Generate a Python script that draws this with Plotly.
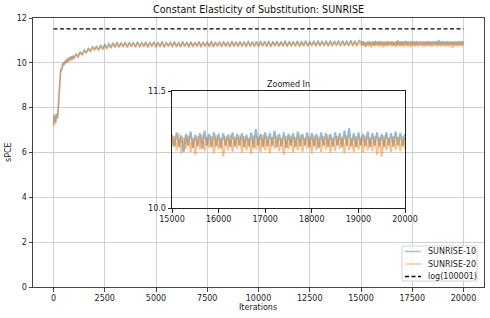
import plotly.graph_objects as go

# ---------------- data ----------------
iter_seg1 = list(range(0, 1001, 50))
iter_seg2 = list(range(1100, 2001, 100))
iter_seg3 = list(range(2100, 14901, 100))
iter_seg4 = list(range(15000, 20001, 50))
iterations = iter_seg1 + iter_seg2 + iter_seg3 + iter_seg4

sunrise10 = [
    # 0..1000 step 50
    7.25, 7.70, 7.35, 7.75, 7.55, 8.50, 9.20, 9.75, 9.70, 10.00, 9.90, 10.10, 10.00, 10.18, 10.05,
    10.25, 10.12, 10.30, 10.15, 10.33, 10.20,
    # 1100..2000 step 100
    10.40, 10.28, 10.49, 10.38, 10.58, 10.46, 10.66, 10.53, 10.73, 10.60,
    # 2100..14900 step 100
    10.76, 10.58, 10.80, 10.62, 10.84, 10.65, 10.88, 10.68, 10.91, 10.71,
    10.93, 10.72, 10.91, 10.73, 10.94, 10.71, 10.93, 10.74, 10.92, 10.72,
    10.95, 10.73, 10.92, 10.74, 10.94, 10.72, 10.93, 10.75, 10.95, 10.73,
    10.92, 10.74, 10.96, 10.72, 10.93, 10.75, 10.94, 10.73, 10.95, 10.74,
    10.93, 10.73, 10.96, 10.75, 10.94, 10.72, 10.95, 10.74, 10.93, 10.75,
    10.96, 10.73, 10.94, 10.75, 10.95, 10.74, 10.97, 10.73, 10.94, 10.76,
    10.95, 10.74, 10.96, 10.75, 10.94, 10.73, 10.97, 10.76, 10.95, 10.74,
    10.96, 10.75, 10.95, 10.74, 10.98, 10.76, 10.95, 10.75, 10.96, 10.74,
    10.97, 10.76, 10.96, 10.75, 10.98, 10.74, 10.96, 10.77, 10.97, 10.75,
    10.96, 10.76, 10.99, 10.75, 10.97, 10.77, 10.96, 10.76, 10.98, 10.75,
    10.97, 10.77, 10.99, 10.76, 10.97, 10.78, 10.98, 10.76, 11.00, 10.77,
    10.98, 10.78, 10.99, 10.76, 11.00, 10.77, 10.98, 10.79, 10.99, 10.77,
    11.00, 10.78, 10.98, 10.77, 11.01, 10.78, 10.99, 10.77, 11.00,
    # 15000..20000 step 50
    10.94, 10.79, 10.97, 10.78, 10.93, 10.72, 10.95, 10.80, 10.98, 10.77,
    10.94, 10.79, 10.96, 10.76, 10.99, 10.80, 10.95, 10.78, 10.97, 10.79,
    10.95, 10.77, 10.96, 10.80, 10.94, 10.78, 10.97, 10.79, 10.95, 10.80,
    10.96, 10.78, 10.94, 10.79, 10.97, 10.77, 11.01, 10.80, 10.95, 10.78,
    10.97, 10.79, 10.96, 10.80, 10.99, 10.78, 10.95, 10.79, 10.97, 10.77,
    10.95, 10.80, 10.96, 10.78, 10.98, 10.79, 10.95, 10.80, 10.97, 10.78,
    10.96, 10.79, 10.95, 10.77, 10.97, 10.80, 10.96, 10.78, 10.95, 10.79,
    10.97, 10.80, 10.96, 10.78, 10.99, 10.80, 11.02, 10.79, 10.96, 10.78,
    10.97, 10.80, 10.95, 10.79, 10.98, 10.78, 10.96, 10.80, 10.97, 10.79,
    10.95, 10.78, 10.97, 10.80, 10.96, 10.79, 10.98, 10.80, 10.96, 10.79,
    10.95,
]

sunrise20 = [
    7.15, 7.60, 7.25, 7.65, 7.50, 8.40, 9.10, 9.65, 9.62, 9.92, 9.85, 10.05, 9.95, 10.12, 10.00,
    10.20, 10.08, 10.26, 10.10, 10.30, 10.17,
    10.36, 10.25, 10.46, 10.34, 10.54, 10.43, 10.62, 10.50, 10.69, 10.57,
    10.69, 10.56, 10.73, 10.59, 10.76, 10.62, 10.80, 10.64, 10.83, 10.67,
    10.86, 10.68, 10.85, 10.69, 10.88, 10.67, 10.87, 10.70, 10.86, 10.68,
    10.89, 10.69, 10.87, 10.70, 10.88, 10.68, 10.88, 10.71, 10.89, 10.69,
    10.87, 10.70, 10.90, 10.68, 10.88, 10.71, 10.89, 10.69, 10.90, 10.70,
    10.88, 10.69, 10.90, 10.71, 10.89, 10.68, 10.90, 10.70, 10.88, 10.71,
    10.90, 10.69, 10.89, 10.71, 10.90, 10.70, 10.91, 10.69, 10.89, 10.72,
    10.90, 10.70, 10.91, 10.71, 10.89, 10.69, 10.91, 10.72, 10.90, 10.70,
    10.91, 10.71, 10.90, 10.70, 10.92, 10.72, 10.90, 10.71, 10.91, 10.70,
    10.91, 10.72, 10.91, 10.71, 10.92, 10.70, 10.91, 10.73, 10.92, 10.71,
    10.91, 10.72, 10.93, 10.71, 10.92, 10.73, 10.91, 10.72, 10.93, 10.71,
    10.92, 10.73, 10.93, 10.72, 10.92, 10.74, 10.93, 10.72, 10.94, 10.73,
    10.93, 10.74, 10.94, 10.72, 10.94, 10.73, 10.93, 10.75, 10.94, 10.73,
    10.94, 10.74, 10.93, 10.73, 10.95, 10.74, 10.94, 10.73, 10.95,
    10.78, 10.92, 10.74, 10.95, 10.70, 10.91, 10.76, 10.93, 10.72, 10.90,
    10.68, 10.92, 10.75, 10.94, 10.73, 10.91, 10.77, 10.92, 10.70, 10.93,
    10.75, 10.90, 10.66, 10.92, 10.74, 10.94, 10.72, 10.91, 10.76, 10.93,
    10.71, 10.92, 10.74, 10.90, 10.69, 10.93, 10.75, 10.91, 10.72, 10.94,
    10.74, 10.92, 10.70, 10.91, 10.76, 10.93, 10.73, 10.90, 10.68, 10.92,
    10.75, 10.93, 10.71, 10.91, 10.74, 10.94, 10.72, 10.90, 10.76, 10.92,
    10.70, 10.93, 10.74, 10.91, 10.72, 10.92, 10.75, 10.94, 10.71, 10.90,
    10.73, 10.92, 10.76, 10.91, 10.70, 10.93, 10.74, 10.90, 10.72, 10.92,
    10.75, 10.91, 10.71, 10.93, 10.74, 10.90, 10.73, 10.92, 10.68, 10.91,
    10.66, 10.93, 10.74, 10.90, 10.72, 10.92, 10.75, 10.91, 10.73, 10.92,
    10.76,
]

log_bound = 11.5129  # log(100001)
bound_x = [0, 20000]
zoom_start = 15000

series_names = ["SUNRISE-10", "SUNRISE-20", "log(100001)"]
main_xticks = [0, 2500, 5000, 7500, 10000, 12500, 15000, 17500, 20000]
main_yticks = [0, 2, 4, 6, 8, 10, 12]
inset_xticks = [15000, 16000, 17000, 18000, 19000, 20000]
inset_yticks = [10.0, 11.5]

# ---------------- figure ----------------
BLUE = "rgba(31,119,180,0.5)"
ORANGE = "rgba(255,127,14,0.5)"
BLUE_L = "rgba(31,119,180,0.45)"
ORANGE_L = "rgba(255,127,14,0.45)"
FONT = "DejaVu Sans"
LW = 1.5
LW_IN = 2.0

fig = go.Figure()

fig.add_trace(go.Scatter(x=iterations, y=sunrise10, mode="lines", name=series_names[0],
                         line=dict(color=BLUE, width=LW), showlegend=False))
fig.add_trace(go.Scatter(x=iterations, y=sunrise20, mode="lines", name=series_names[1],
                         line=dict(color=ORANGE, width=LW), showlegend=False))
fig.add_trace(go.Scatter(x=bound_x, y=[log_bound, log_bound], mode="lines", name=series_names[2],
                         line=dict(color="black", width=1.3, dash="4px,2.5px"), showlegend=False))

zx = [x for x in iterations if x >= zoom_start]
z10 = [v for x, v in zip(iterations, sunrise10) if x >= zoom_start]
z20 = [v for x, v in zip(iterations, sunrise20) if x >= zoom_start]
fig.add_trace(go.Scatter(x=zx, y=z10, mode="lines", showlegend=False,
                         line=dict(color=BLUE, width=LW_IN), xaxis="x2", yaxis="y2"))
fig.add_trace(go.Scatter(x=zx, y=z20, mode="lines", showlegend=False,
                         line=dict(color=ORANGE, width=LW_IN), xaxis="x2", yaxis="y2"))

W, H = 490, 318
ml, mr, mt, mb = 33, 6, 18, 31
pw, ph = W - ml - mr, H - mt - mb

def px_x(p):
    return (p - ml) / pw

def px_y(p):
    return (H - mb - p) / ph

axis_common = dict(zeroline=False, showline=True, mirror=True, ticks="outside", ticklen=3.5,
                   linewidth=1, automargin=False, tickfont=dict(size=8, color="#222"))

# custom compact legend (matplotlib style)
shapes = [dict(type="rect", xref="paper", yref="paper", x0=px_x(402), x1=px_x(477),
               y0=px_y(281), y1=px_y(246), line=dict(color="#d4d4d4", width=1),
               fillcolor="rgba(255,255,255,0.85)", layer="above")]
legend_y = [251.5, 264, 276.5]
legend_styles = [dict(color=BLUE_L, width=1.5), dict(color=ORANGE_L, width=1.5),
                 dict(color="black", width=1.3, dash="4px,2.5px")]
annotations = []
for name, yy, st in zip(series_names, legend_y, legend_styles):
    shapes.append(dict(type="line", xref="paper", yref="paper", x0=px_x(405), x1=px_x(421),
                       y0=px_y(yy), y1=px_y(yy), line=st, layer="above"))
    annotations.append(dict(text=name, x=px_x(426), y=px_y(yy), xref="paper", yref="paper",
                            showarrow=False, xanchor="left", yanchor="middle",
                            font=dict(size=8, color="#222")))

annotations += [
    dict(text="Zoomed In", x=(px_x(172) + px_x(405)) / 2, y=px_y(84), xref="paper", yref="paper",
         showarrow=False, xanchor="center", yanchor="middle", font=dict(size=8, color="#222")),
    dict(text="Iterations", x=px_x(258), y=px_y(307), xref="paper", yref="paper",
         showarrow=False, xanchor="center", yanchor="middle", font=dict(size=8, color="#222")),
    dict(text="sPCE", x=px_x(8), y=px_y(152), xref="paper", yref="paper", textangle=-90,
         showarrow=False, xanchor="center", yanchor="middle", font=dict(size=8, color="#222")),
    dict(text="Constant Elasticity of Substitution: SUNRISE", x=px_x(258), y=px_y(10),
         xref="paper", yref="paper", showarrow=False, xanchor="center", yanchor="middle",
         font=dict(size=9.6, color="#111")),
]

fig.update_layout(
    width=W, height=H,
    margin=dict(l=ml, r=mr, t=mt, b=mb),
    paper_bgcolor="white",
    plot_bgcolor="rgba(0,0,0,0)",
    font=dict(family=FONT, size=8, color="#222"),
    showlegend=False,
    xaxis=dict(range=[-1000, 21000], tickvals=main_xticks, tickformat="d", showgrid=True,
               gridcolor="#d0d0d0", gridwidth=1, linecolor="#444", tickcolor="#444",
               **axis_common),
    yaxis=dict(range=[0, 12], tickvals=main_yticks, showgrid=True, gridcolor="#d0d0d0",
               gridwidth=1, linecolor="#444", tickcolor="#444", **axis_common),
    xaxis2=dict(domain=[px_x(172), px_x(405)], anchor="y2", range=[15000, 20000],
                tickvals=inset_xticks, tickformat="d", showgrid=False, linecolor="#222",
                tickcolor="#222", **axis_common),
    yaxis2=dict(domain=[px_y(208), px_y(91)], anchor="x2", range=[10.0, 11.5],
                tickvals=inset_yticks, ticktext=["10.0", "11.5"], showgrid=False,
                linecolor="#222", tickcolor="#222", **axis_common),
    shapes=shapes,
    annotations=annotations,
)

fig.write_html("out.html", config={"displayModeBar": False},
               post_script="document.body.style.margin='0';")
